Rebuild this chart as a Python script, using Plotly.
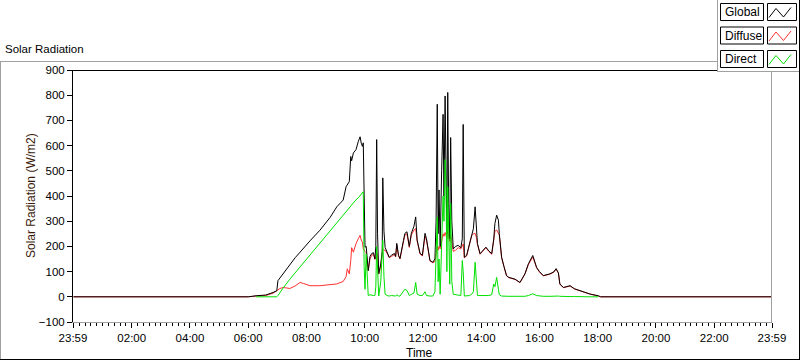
import plotly.graph_objects as go

# ---------------- data (hours of day, W/m2) ----------------
time_h = [0.00, 6.00, 6.27, 6.60, 6.85, 6.98, 7.02, 7.09, 7.20, 7.43, 7.61, 7.78, 7.89, 8.12, 8.46,
          8.81, 9.04, 9.26, 9.36, 9.40, 9.47, 9.52, 9.55, 9.61, 9.70, 9.78, 9.84, 9.88, 9.92, 9.95,
          9.98, 10.01, 10.05, 10.12, 10.18, 10.24, 10.30, 10.35, 10.38, 10.41, 10.44, 10.48, 10.55,
          10.60, 10.62, 10.66, 10.70, 10.77, 10.84, 10.92, 11.02, 11.06, 11.10, 11.16, 11.21, 11.33,
          11.38, 11.45, 11.53, 11.60, 11.69, 11.75, 11.80, 11.90, 11.98, 12.07, 12.12, 12.24, 12.34,
          12.41, 12.45, 12.49, 12.52, 12.55, 12.59, 12.64, 12.69, 12.72, 12.76, 12.79, 12.82, 12.85,
          12.88, 12.92, 12.95, 12.99, 13.04, 13.12, 13.21, 13.30, 13.35, 13.38, 13.42, 13.50, 13.60,
          13.67, 13.73, 13.79, 13.84, 13.87, 13.96, 14.06, 14.16, 14.26, 14.36, 14.43, 14.47, 14.53,
          14.59, 14.62, 14.70, 14.78, 14.87, 14.95, 15.16, 15.33, 15.50, 15.62, 15.70, 15.77, 15.90,
          16.00, 16.13, 16.36, 16.50, 16.57, 16.65, 16.70, 16.82, 16.95, 17.05, 17.20, 17.39, 17.55,
          17.73, 18.02, 18.10, 24.00]

global_wm2 = [0, 0, 4, 7, 17, 24, 64, 75, 91, 131, 155, 177, 192, 222, 264,
              315, 357, 384, 437, 445, 457, 557, 540, 571, 584, 617, 635, 610, 597, 611,
              304, 197, 200, 104, 160, 172, 175, 150, 200, 624, 250, 92, 130,
              180, 472, 260, 196, 175, 157, 165, 172, 160, 212, 165, 152, 224,
              252, 258, 200, 252, 280, 317, 225, 172, 165, 252, 230, 144, 137,
              150, 300, 764, 250, 424, 200, 500, 724, 400, 797, 500, 250, 811,
              370, 230, 632, 300, 190, 200, 204, 195, 230, 684, 157, 165, 215,
              252, 270, 357, 240, 211, 171, 185, 197, 182, 171, 230, 291, 324,
              304, 251, 157, 120, 84, 77, 70, 57, 91, 131, 150, 164, 117,
              100, 84, 91, 100, 112, 95, 51, 37, 40, 44, 32, 24, 18,
              11, 4, 0, 0]

diffuse_wm2 = [0, 0, 3, 5, 14, 24, 28, 33, 37, 33, 43, 57, 53, 44, 44,
               48, 51, 61, 80, 111, 91, 144, 195, 177, 211, 231, 244, 225, 217, 191,
               184, 180, 175, 104, 150, 165, 168, 148, 160, 175, 165, 90, 120,
               160, 190, 185, 185, 172, 155, 160, 168, 158, 205, 162, 150, 218,
               245, 250, 196, 245, 265, 270, 220, 170, 162, 240, 225, 142, 135,
               140, 170, 200, 185, 200, 190, 230, 250, 240, 255, 245, 230, 260,
               240, 220, 245, 220, 180, 185, 195, 190, 200, 210, 155, 162, 210,
               242, 250, 252, 232, 208, 169, 182, 195, 180, 169, 225, 260, 265,
               250, 245, 155, 118, 83, 76, 69, 56, 90, 128, 146, 158, 115,
               98, 83, 90, 98, 110, 93, 50, 36, 39, 43, 31, 23, 17,
               11, 3, 0, 0]

# direct radiation is only logged between ~06:16 and ~18:01 (None = no sample)
direct_wm2 = [None, None, 0, 0, 0, 0, 5, 18, 35, 70, 95, 120, 135, 168, 215,
              262, 293, 325, 338, 342, 352, 358, 362, 372, 385, 393, 400, 405, 410, 417,
              120, 30, 170, 5, 8, 5, 5, 5, 40, 200, 100, 3, 60,
              160, 224, 80, 10, 5, 3, 5, 3, 3, 8, 3, 3, 20,
              30, 25, 5, 10, 15, 57, 10, 5, 5, 20, 5, 3, 3,
              20, 200, 317, 60, 150, 10, 251, 400, 300, 544, 450, 100, 437,
              300, 50, 371, 60, 10, 8, 5, 5, 144, 100, 3, 3, 5,
              10, 20, 137, 15, 5, 5, 5, 5, 5, 8, 51, 40, 77,
              30, 8, 3, 2, 2, 2, 2, 2, 2, 5, 10, 12, 5,
              3, 2, 2, 3, 5, 3, 2, 1, 1, 1, 1, 0, 0,
              0, 0, None, None]

series_names = ["Global", "Diffuse", "Direct"]
series_colors = ["#000000", "#ff3030", "#00e000"]

x_tick_vals = [-1 / 60, 2, 4, 6, 8, 10, 12, 14, 16, 18, 20, 22, 24 - 1 / 60]
x_tick_text = ["23:59", "02:00", "04:00", "06:00", "08:00", "10:00", "12:00",
               "14:00", "16:00", "18:00", "20:00", "22:00", "23:59"]
y_tick_vals = [-100, 0, 100, 200, 300, 400, 500, 600, 700, 800, 900]

# ---------------- layout helpers (pixel -> paper) ----------------
W, H = 800, 361
PL, PR, PT, PB = 73, 772, 70, 322


def px(x):
    return (x - PL) / (PR - PL)


def py(y):
    return (PB - y) / (PB - PT)


FONT = "Liberation Sans, Arial, sans-serif"

fig = go.Figure()
for vals, name, col in [(diffuse_wm2, "Diffuse", series_colors[1]),
                        (global_wm2, "Global", series_colors[0]),
                        (direct_wm2, "Direct", series_colors[2])]:
    fig.add_trace(go.Scatter(x=time_h, y=vals, mode="lines", name=name,
                             line=dict(color=col, width=1), connectgaps=False,
                             hoverinfo="skip"))

fig.update_layout(
    width=W, height=H,
    margin=dict(l=PL, r=W - PR, t=PT, b=H - PB, pad=0),
    paper_bgcolor="white", plot_bgcolor="white",
    showlegend=False,
    font=dict(family=FONT, size=11.5, color="black"),
)
fig.update_xaxes(
    range=[-1 / 60, 24 - 1 / 60], tickmode="array", tickvals=x_tick_vals, ticktext=x_tick_text,
    ticks="outside", ticklen=5, tickwidth=1, tickcolor="black",
    showgrid=False, zeroline=False, showline=True, linecolor="#a0a0a0", linewidth=1,
    tickfont=dict(family=FONT, size=11.5, color="black"),
    minor=dict(tick0=0, dtick=0.2, ticks="outside", ticklen=3, tickcolor="black", showgrid=False),
    automargin=False,
)
fig.update_yaxes(
    range=[-100, 900], tickmode="array", tickvals=y_tick_vals,
    ticks="outside", ticklen=5, tickwidth=1, tickcolor="black",
    showgrid=False, zeroline=False, showline=True, linecolor="black", linewidth=1,
    tickfont=dict(family=FONT, size=11.5, color="black"),
    automargin=False,
)

shapes = []


def hline(y, x0, x1, color):
    shapes.append(dict(type="line", xref="paper", yref="paper", x0=px(x0), x1=px(x1),
                       y0=py(y), y1=py(y), line=dict(color=color, width=1), layer="above"))


def vline(x, y0, y1, color):
    shapes.append(dict(type="line", xref="paper", yref="paper", x0=px(x), x1=px(x),
                       y0=py(y0), y1=py(y1), line=dict(color=color, width=1), layer="above"))


# plot frame top (black) and right (gray)
hline(70.5, 73, 772, "black")
vline(771.5, 70, 322, "#a0a0a0")
# outer panel
hline(61.5, 0, 717, "#a0a0a0")
vline(0.5, 61, 360, "#a0a0a0")
hline(359.5, 0, 800, "black")
vline(799.5, 0, 360, "black")

# legend panel
shapes.append(dict(type="rect", xref="paper", yref="paper", x0=px(717), x1=px(799), y0=py(0), y1=py(71.5),
                   fillcolor="white", line=dict(width=0), layer="above"))
vline(717.5, 0, 72, "#a0a0a0")
hline(71.5, 717, 799, "#a0a0a0")

annotations = []
row_tops = [3.5, 27.0, 50.5]
for name, col, top in zip(series_names, series_colors, row_tops):
    bot = top + 17
    shapes.append(dict(type="rect", xref="paper", yref="paper", x0=px(720.5), x1=px(763.5),
                       y0=py(top), y1=py(bot), fillcolor="white", line=dict(color="black", width=1),
                       layer="above"))
    shapes.append(dict(type="rect", xref="paper", yref="paper", x0=px(767.5), x1=px(796.5),
                       y0=py(top), y1=py(bot), fillcolor="white", line=dict(color="black", width=1),
                       layer="above"))
    pts = [(769, top + 14), (776, top + 5), (783.5, top + 13.5), (791, top + 4)]
    path = "M " + " L ".join(f"{px(a):.5f},{py(b):.5f}" for a, b in pts)
    shapes.append(dict(type="path", xref="paper", yref="paper", path=path,
                       line=dict(color=col, width=1), layer="above"))
    annotations.append(dict(text=name, xref="paper", yref="paper", x=px(722.5), y=py(top + 8.5),
                            xanchor="left", yanchor="middle", showarrow=False,
                            font=dict(family=FONT, size=12, color="black")))

annotations.append(dict(text="Solar Radiation", xref="paper", yref="paper", x=px(3), y=py(49),
                        xanchor="left", yanchor="middle", showarrow=False,
                        font=dict(family=FONT, size=11.5, color="black")))
annotations.append(dict(text="Time", xref="paper", yref="paper", x=px(419), y=py(353),
                        xanchor="center", yanchor="middle", showarrow=False,
                        font=dict(family=FONT, size=12, color="black")))
annotations.append(dict(text="Solar Radiation (W/m2)", xref="paper", yref="paper", x=px(31), y=py(196),
                        xanchor="center", yanchor="middle", textangle=-90, showarrow=False,
                        font=dict(family=FONT, size=12, color="#3a1a0a")))

fig.update_layout(shapes=shapes, annotations=annotations)
fig.write_html("out.html", config={"displayModeBar": False, "staticPlot": True},
               post_script="document.body.style.margin='0';document.body.style.overflow='hidden';")
